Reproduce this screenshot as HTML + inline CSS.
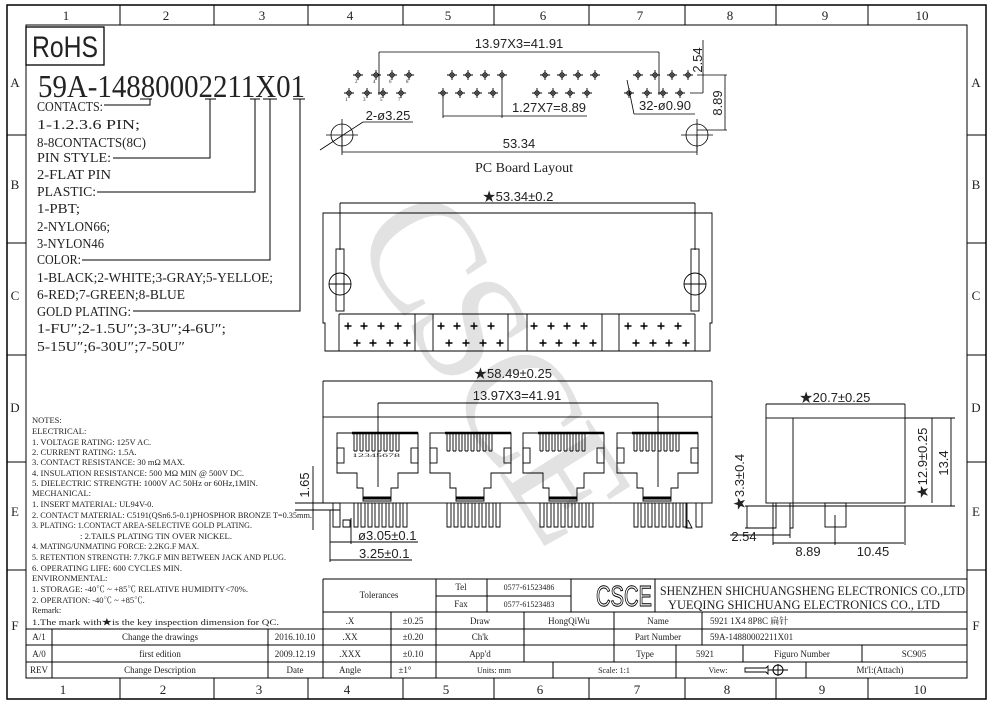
<!DOCTYPE html>
<html><head><meta charset="utf-8"><style>
html,body{margin:0;padding:0;background:#fff;}
svg{display:block;}
text{font-family:"Liberation Serif","Noto Serif CJK SC",serif;fill:#222;}
.s{font-family:"Liberation Sans","Noto Sans CJK SC",sans-serif;}
</style></head><body>
<svg width="992" height="707" viewBox="0 0 992 707" xmlns="http://www.w3.org/2000/svg">
<defs>
<symbol id="p" overflow="visible"><circle cx="0" cy="0" r="2.2" fill="none" stroke="#000" stroke-width="0.9"/><path d="M-5 0H5M0 -5V5" stroke="#000" stroke-width="0.9"/></symbol>
<symbol id="q" overflow="visible"><path d="M-3.5 0H3.5M0 -3.5V3.5" stroke="#000" stroke-width="1.4"/></symbol>
</defs>
<!-- watermark -->
<text x="0" y="0" transform="translate(350,235) rotate(58)" font-size="160" style="fill:#e2e2e2" letter-spacing="-8">CSCE</text>

<g fill="none" stroke="#000" stroke-width="1">
<rect x="7" y="5" width="979" height="694" stroke-width="1.5"/>
<rect x="26" y="25" width="941" height="653"/>
<path d="M120 5V25M214 5V25M308 5V25M403 5V25M494 5V25M589 5V25M685 5V25M776 5V25M868 5V25"/>
<path d="M120 678V699M214 678V699M308 678V699M403 678V699M494 678V699M589 678V699M685 678V699M776 678V699M868 678V699"/>
<path d="M7 135H26M7 243H26M7 355H26M7 462H26M7 570H26M967 135H986M967 243H986M967 355H986M967 462H986M967 570H986"/>
</g>
<g font-size="13" text-anchor="middle">
<text x="66" y="20">1</text><text x="166" y="20">2</text><text x="262" y="20">3</text><text x="350" y="20">4</text><text x="448" y="20">5</text><text x="543" y="20">6</text><text x="640" y="20">7</text><text x="730" y="20">8</text><text x="825" y="20">9</text><text x="922" y="20">10</text>
<text x="63" y="694">1</text><text x="163" y="694">2</text><text x="259" y="694">3</text><text x="347" y="694">4</text><text x="446" y="694">5</text><text x="540" y="694">6</text><text x="637" y="694">7</text><text x="727" y="694">8</text><text x="822" y="694">9</text><text x="920" y="694">10</text>
<text x="15" y="87">A</text><text x="15" y="189">B</text><text x="15" y="300">C</text><text x="15" y="412">D</text><text x="15" y="516">E</text><text x="15" y="630">F</text>
<text x="976" y="87">A</text><text x="976" y="189">B</text><text x="976" y="300">C</text><text x="976" y="412">D</text><text x="976" y="516">E</text><text x="976" y="630">F</text>
</g>

<!-- RoHS + part number -->
<rect x="26" y="27" width="78" height="38" fill="none" stroke="#000" stroke-width="1.3"/>
<text class="s" x="32" y="57" font-size="30" textLength="66" lengthAdjust="spacingAndGlyphs">RoHS</text>
<text x="38" y="97" font-size="32" textLength="267" lengthAdjust="spacingAndGlyphs">59A-14880002211X01</text>
<g fill="none" stroke="#000" stroke-width="1">
<path d="M140 99H152M205 99H216M250 99H260M263 99H277M293 99H305"/>
<path d="M104 105H150V99M113 158H210V99M97 192H255V99M82 260H270V99M133 311H300V99"/>
</g>
<g font-size="13.5">
<text x="37" y="111" textLength="66" lengthAdjust="spacingAndGlyphs">CONTACTS:</text>
<text x="37" y="129" textLength="103" lengthAdjust="spacingAndGlyphs">1-1.2.3.6 PIN;</text>
<text x="37" y="147" textLength="109" lengthAdjust="spacingAndGlyphs">8-8CONTACTS(8C)</text>
<text x="37" y="162" textLength="74" lengthAdjust="spacingAndGlyphs">PIN STYLE:</text>
<text x="37" y="179" textLength="74" lengthAdjust="spacingAndGlyphs">2-FLAT PIN</text>
<text x="37" y="196" textLength="59" lengthAdjust="spacingAndGlyphs">PLASTIC:</text>
<text x="37" y="213" textLength="43" lengthAdjust="spacingAndGlyphs">1-PBT;</text>
<text x="37" y="231" textLength="73" lengthAdjust="spacingAndGlyphs">2-NYLON66;</text>
<text x="37" y="248" textLength="67" lengthAdjust="spacingAndGlyphs">3-NYLON46</text>
<text x="37" y="264" textLength="44" lengthAdjust="spacingAndGlyphs">COLOR:</text>
<text x="37" y="282" textLength="236" lengthAdjust="spacingAndGlyphs">1-BLACK;2-WHITE;3-GRAY;5-YELLOE;</text>
<text x="37" y="299" textLength="148" lengthAdjust="spacingAndGlyphs">6-RED;7-GREEN;8-BLUE</text>
<text x="37" y="316" textLength="94" lengthAdjust="spacingAndGlyphs">GOLD PLATING:</text>
<text x="37" y="333" textLength="189" lengthAdjust="spacingAndGlyphs">1-FU″;2-1.5U″;3-3U″;4-6U″;</text>
<text x="37" y="351" textLength="148" lengthAdjust="spacingAndGlyphs">5-15U″;6-30U″;7-50U″</text>
</g>

<!-- notes -->
<g font-size="8.5">
<text x="32" y="423">NOTES:</text>
<text x="32" y="434">ELECTRICAL:</text>
<text x="32" y="445">1. VOLTAGE RATING: 125V AC.</text>
<text x="32" y="455">2. CURRENT RATING: 1.5A.</text>
<text x="32" y="465">3. CONTACT RESISTANCE: 30 mΩ MAX.</text>
<text x="32" y="476" textLength="212" lengthAdjust="spacingAndGlyphs">4. INSULATION RESISTANCE: 500 MΩ MIN @ 500V DC.</text>
<text x="32" y="486" textLength="226" lengthAdjust="spacingAndGlyphs">5. DIELECTRIC STRENGTH: 1000V AC 50Hz or 60Hz,1MIN.</text>
<text x="32" y="496">MECHANICAL:</text>
<text x="32" y="507">1. INSERT MATERIAL: UL94V-0.</text>
<text x="32" y="518" textLength="280" lengthAdjust="spacingAndGlyphs">2. CONTACT MATERIAL: C5191(QSn6.5-0.1)PHOSPHOR BRONZE T=0.35mm.</text>
<text x="32" y="528" textLength="220" lengthAdjust="spacingAndGlyphs">3. PLATING: 1.CONTACT AREA-SELECTIVE GOLD PLATING.</text>
<text x="80" y="539" textLength="152" lengthAdjust="spacingAndGlyphs">: 2.TAILS PLATING TIN OVER NICKEL.</text>
<text x="32" y="549" textLength="167" lengthAdjust="spacingAndGlyphs">4. MATING/UNMATING FORCE: 2.2KG.F MAX.</text>
<text x="32" y="560" textLength="254" lengthAdjust="spacingAndGlyphs">5. RETENTION STRENGTH: 7.7KG.F MIN BETWEEN JACK AND PLUG.</text>
<text x="32" y="571" textLength="150" lengthAdjust="spacingAndGlyphs">6. OPERATING LIFE: 600 CYCLES MIN.</text>
<text x="32" y="581">ENVIRONMENTAL:</text>
<text x="32" y="592" textLength="216" lengthAdjust="spacingAndGlyphs">1. STORAGE: -40℃ ~ +85℃ RELATIVE HUMIDITY&lt;70%.</text>
<text x="32" y="603">2. OPERATION: -40℃ ~ +85℃.</text>
<text x="32" y="613">Remark:</text>
<text x="32" y="625" textLength="247" lengthAdjust="spacingAndGlyphs">1.The mark with★is the key inspection dimension for QC.</text>
</g>

<!-- revision table -->
<g fill="none" stroke="#000" stroke-width="1">
<path d="M26 629H323M26 645H323M26 662H323M52 629V678M268 629V678"/>
<path d="M323 579H967M323 579V678M323 612H967M323 629H967M323 645H967M323 662H967"/>
<path d="M391 612V678M436 579V678M436 596H571M487 579V612M571 579V612M655 579V612M524 612V662M614 612V662M702 612V645M676 645V678M743 645V662M862 645V662M553 662V678M806 662V678"/>
</g>
<g font-size="9" text-anchor="middle">
<text x="39" y="640">A/1</text><text x="160" y="640">Change the drawings</text><text x="295" y="640">2016.10.10</text>
<text x="39" y="657">A/0</text><text x="160" y="657">first edition</text><text x="295" y="657">2009.12.19</text>
<text x="39" y="673">REV</text><text x="160" y="673">Change Description</text><text x="295" y="673">Date</text>
<text x="379" y="598">Tolerances</text>
<text x="461" y="590">Tel</text><text x="461" y="607">Fax</text>
<text x="529" y="590" font-size="8">0577-61523486</text><text x="529" y="607" font-size="8">0577-61523483</text>
<text x="350" y="624">.X</text><text x="413" y="624">±0.25</text><text x="480" y="624">Draw</text><text x="569" y="624">HongQiWu</text><text x="658" y="624">Name</text>
<text x="350" y="640">.XX</text><text x="413" y="640">±0.20</text><text x="480" y="640">Ch'k</text><text x="658" y="640">Part Number</text>
<text x="350" y="657">.XXX</text><text x="413" y="657">±0.10</text><text x="480" y="657">App'd</text><text x="645" y="657">Type</text><text x="705" y="657">5921</text><text x="802" y="657">Figuro Number</text><text x="914" y="657">SC905</text>
<text x="350" y="673">Angle</text><text x="405" y="673">±1°</text><text x="494" y="673" font-size="8">Units: mm</text><text x="614" y="673" font-size="8">Scale: 1:1</text><text x="718" y="673" font-size="8">View:</text><text x="880" y="673">Mt'l:(Attach)</text>
</g>
<g font-size="9"><text x="710" y="624">5921 1X4 8P8C 扁针</text><text x="710" y="640">59A-14880002211X01</text></g>
<path d="M745 668H766L768 666V674L766 672H745ZM768 670H788M778 664V676" fill="none" stroke="#000" stroke-width="0.9"/><circle cx="778" cy="670" r="5" fill="none" stroke="#000"/>
<text class="s" x="596" y="606" font-size="29" fill="#fff" style="fill:#fff" stroke="#000" stroke-width="1" textLength="56" lengthAdjust="spacingAndGlyphs">CSCE</text>
<text x="660" y="595" font-size="13" textLength="305" lengthAdjust="spacingAndGlyphs">SHENZHEN SHICHUANGSHENG ELECTRONICS CO.,LTD</text>
<text x="668" y="609" font-size="13" textLength="272" lengthAdjust="spacingAndGlyphs">YUEQING SHICHUANG ELECTRONICS CO., LTD</text>

<!-- PC board layout -->
<g fill="none" stroke="#000" stroke-width="0.8">
<path d="M379 52H659M379 52V95M659 52V95"/>
<path d="M697 75H727M690 93H703M703 40V93M725 75V130M697 130H727"/>
<path d="M443 95V118M502 75V118M443 116H587"/>
<path d="M634 114H695M634 114L627 80"/>
<path d="M363 122H413M363 122L320 150"/>
<circle cx="342" cy="135" r="11"/><circle cx="697" cy="135" r="11"/>
<path d="M326 135H358M342 119V151M681 135H713M697 119V151"/>
<path d="M342 152H697M342 135V155M697 135V155"/>
</g>
<g>
<use href="#p" x="358" y="75"/><use href="#p" x="376" y="75"/><use href="#p" x="392" y="75"/><use href="#p" x="409" y="75"/>
<use href="#p" x="349" y="93"/><use href="#p" x="367" y="93"/><use href="#p" x="383" y="93"/><use href="#p" x="401" y="93"/>
<use href="#p" x="452" y="75"/><use href="#p" x="468" y="75"/><use href="#p" x="485" y="75"/><use href="#p" x="502" y="75"/>
<use href="#p" x="443" y="93"/><use href="#p" x="460" y="93"/><use href="#p" x="477" y="93"/><use href="#p" x="493" y="93"/>
<use href="#p" x="545" y="75"/><use href="#p" x="562" y="75"/><use href="#p" x="578" y="75"/><use href="#p" x="595" y="75"/>
<use href="#p" x="537" y="93"/><use href="#p" x="553" y="93"/><use href="#p" x="570" y="93"/><use href="#p" x="587" y="93"/>
<use href="#p" x="638" y="75"/><use href="#p" x="655" y="75"/><use href="#p" x="672" y="75"/><use href="#p" x="688" y="75"/>
<use href="#p" x="629" y="93"/><use href="#p" x="647" y="93"/><use href="#p" x="663" y="93"/><use href="#p" x="680" y="93"/>
</g>
<g font-size="5"><text x="345" y="101">1</text><text x="355" y="83">2</text><text x="363" y="101">3</text><text x="373" y="83">4</text><text x="380" y="101">5</text><text x="389" y="83">6</text><text x="398" y="101">7</text><text x="406" y="83">8</text></g>
<g font-size="13">
<text class="s" x="519" y="48" text-anchor="middle">13.97X3=41.91</text>
<text class="s" x="549" y="112" text-anchor="middle">1.27X7=8.89</text>
<text class="s" x="665" y="110" text-anchor="middle">32-ø0.90</text>
<text class="s" x="388" y="120" text-anchor="middle">2-ø3.25</text>
<text class="s" x="519" y="148" text-anchor="middle">53.34</text>
<text class="s" transform="translate(702,60) rotate(-90)" text-anchor="middle">2.54</text>
<text class="s" transform="translate(722,103) rotate(-90)" text-anchor="middle">8.89</text>
</g>
<text x="524" y="172" font-size="14" text-anchor="middle">PC Board Layout</text>

<!-- top view -->
<text class="s" x="518" y="201" font-size="13" text-anchor="middle">★53.34±0.2</text>
<g fill="none" stroke="#000" stroke-width="0.9">
<path d="M340 203H695M340 203V250M695 203V250"/>
<path d="M323 213H712V323H710V351H325V323H323Z"/>
<rect x="336" y="249" width="8" height="62"/><rect x="691" y="249" width="8" height="62"/>
<circle cx="340" cy="284" r="11"/><circle cx="695" cy="284" r="11"/>
<path d="M329 284H351M684 284H706"/>
<path d="M339 314H695M339 314V351M415 314V351M433 314V351M508 314V351M527 314V351M602 314V351M619 314V351M695 314V351"/>
</g>
<g>
<use href="#q" x="348" y="326"/><use href="#q" x="364" y="326"/><use href="#q" x="381" y="326"/><use href="#q" x="398" y="326"/>
<use href="#q" x="357" y="343"/><use href="#q" x="373" y="343"/><use href="#q" x="390" y="343"/><use href="#q" x="407" y="343"/>
<use href="#q" x="441" y="326"/><use href="#q" x="457" y="326"/><use href="#q" x="474" y="326"/><use href="#q" x="491" y="326"/>
<use href="#q" x="449" y="343"/><use href="#q" x="466" y="343"/><use href="#q" x="483" y="343"/><use href="#q" x="500" y="343"/>
<use href="#q" x="534" y="326"/><use href="#q" x="551" y="326"/><use href="#q" x="567" y="326"/><use href="#q" x="584" y="326"/>
<use href="#q" x="543" y="343"/><use href="#q" x="559" y="343"/><use href="#q" x="576" y="343"/><use href="#q" x="593" y="343"/>
<use href="#q" x="628" y="326"/><use href="#q" x="644" y="326"/><use href="#q" x="661" y="326"/><use href="#q" x="678" y="326"/>
<use href="#q" x="636" y="343"/><use href="#q" x="653" y="343"/><use href="#q" x="669" y="343"/><use href="#q" x="686" y="343"/>
</g>

<!-- front view -->
<text class="s" x="513" y="378" font-size="13" text-anchor="middle">★58.49±0.25</text>
<text class="s" x="517" y="400" font-size="13" text-anchor="middle">13.97X3=41.91</text>
<g fill="none" stroke="#000" stroke-width="0.9">
<path d="M323 381H712M323 381V417M712 381V417"/>
<path d="M378 403H658M378 403V487M658 403V487"/>
<rect x="323" y="417" width="389" height="86"/>
</g>
<g id="port" fill="none" stroke="#000" stroke-width="0.9">
<path d="M337 433H418V473H398V488H391V501H363V488H357V473H337Z"/>
<path d="M352 433H418" stroke-width="2.5"/>
<path d="M363 498H391" stroke-width="3"/>
<rect x="337" y="448" width="7" height="15"/><rect x="411" y="448" width="7" height="15"/>
<path d="M354 433V451M357 433V451M360 433V451M363 433V451M366 433V451M369 433V451M372 433V451M375 433V451M378 433V451M381 433V451M384 433V451M387 433V451M390 433V451M393 433V451M396 433V451M399 433V451M354 451H357M360 451H363M366 451H369M372 451H375M378 451H381M384 451H387M390 451H393M396 451H399"/>
<path d="M354 503V527H358V503M361 503V527H365V503M368 503V527H372V503M375 503V527H379V503M382 503V527H386V503M389 503V527H393V503M396 503V527H400V503M403 503V527H407V503"/>
</g>
<use href="#port" x="93" y="0"/><use href="#port" x="186" y="0"/><use href="#port" x="280" y="0"/>
<g font-size="5"><text x="352" y="457" textLength="48" lengthAdjust="spacingAndGlyphs">12345678</text></g>
<g fill="none" stroke="#000" stroke-width="0.9">
<path d="M333 503V527H340V503M343 520H350V527H343Z"/>
<path d="M686 503V528H692L688 520M696 503V527H702V503"/>
<path d="M295 503H340M295 510H340M313 466V530"/>
<path d="M330 510V562M351 518V544M330 542H418M330 560H412"/>
</g>
<text class="s" transform="translate(309,485) rotate(-90)" font-size="13" text-anchor="middle">1.65</text>
<text class="s" x="358" y="540" font-size="13">ø3.05±0.1</text>
<text class="s" x="359" y="558" font-size="13">3.25±0.1</text>

<!-- side view -->
<text class="s" x="835" y="402" font-size="13" text-anchor="middle">★20.7±0.25</text>
<g fill="none" stroke="#000" stroke-width="0.9">
<path d="M766 404H905M766 404V418M905 404V418"/>
<rect x="766" y="418" width="139" height="85"/>
<path d="M793 418V503"/>
<path d="M773 503V528H776V503M790 503V528H793V503"/>
<rect x="825" y="503" width="21" height="24"/>
<path d="M905 418H955M905 506H955M932 418V503M951 418V506"/>
<path d="M745 506H905M745 528H773M747 506V528"/>
<path d="M730 535H790M773 528V545M790 528V538M835 515V545M905 506V545M773 543H904"/>
</g>
<text class="s" transform="translate(927,463) rotate(-90)" font-size="13" text-anchor="middle">★12.9±0.25</text>
<text class="s" transform="translate(948,463) rotate(-90)" font-size="13" text-anchor="middle">13.4</text>
<text class="s" transform="translate(744,482) rotate(-90)" font-size="13" text-anchor="middle">★3.3±0.4</text>
<text class="s" x="744" y="541" font-size="13" text-anchor="middle">2.54</text>
<text class="s" x="808" y="556" font-size="13" text-anchor="middle">8.89</text>
<text class="s" x="873" y="556" font-size="13" text-anchor="middle">10.45</text>
</svg>
</body></html>
